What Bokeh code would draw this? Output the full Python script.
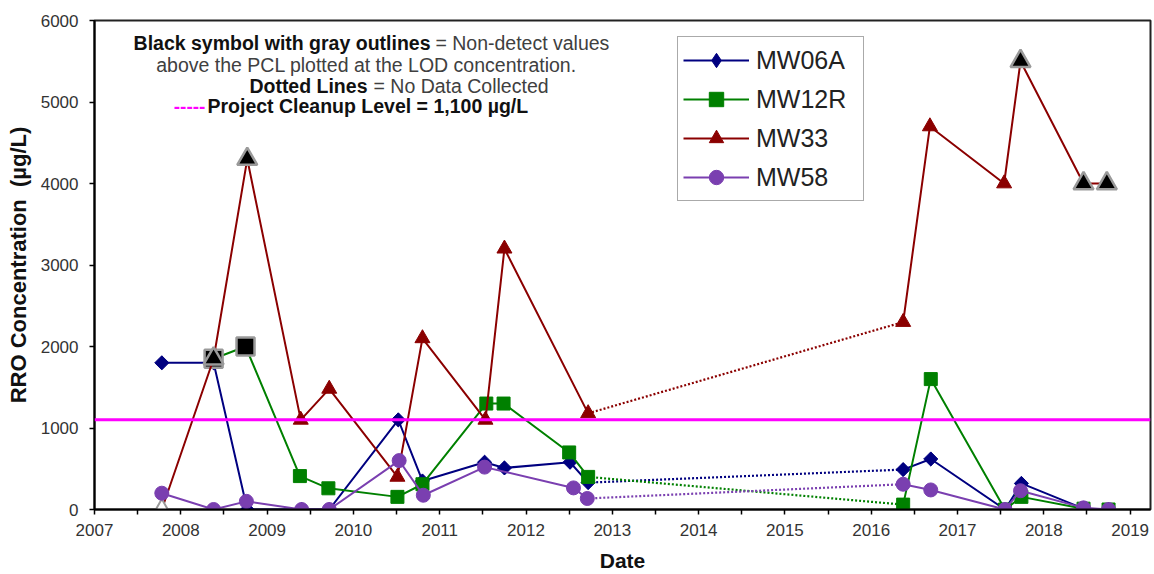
import math
from bokeh.plotting import figure
from bokeh.models import Range1d, FixedTicker, Legend, LegendItem, Label, Span
from bokeh.embed import file_html
from bokeh.resources import INLINE

# ---------------- data (decimal years, µg/L) ----------------
# status: "D" = detected, "ND" = non-detect above PCL (black, gray outline), "NDL" = open symbol
mw06a_dates = [2007.78, 2008.38, 2008.77, 2009.40, 2009.72, 2010.52, 2010.80, 2011.52, 2011.75,
               2012.51, 2012.72, 2016.37, 2016.69, 2017.55, 2017.74, 2018.46, 2018.75]
mw06a_vals = [1800, 1800, 0, 0, 0, 1100, 350, 580, 510, 580, 330, 490, 620, 0, 320, 10, 0]
mw06a_stat = ["D"] * 17

mw12r_dates = [2008.38, 2008.75, 2009.38, 2009.71, 2010.51, 2010.80, 2011.54, 2011.74, 2012.50,
               2012.72, 2016.37, 2016.69, 2017.55, 2017.74, 2018.46, 2018.75]
mw12r_vals = [1850, 2000, 410, 260, 155, 310, 1300, 1300, 700, 400, 60, 1600, 0, 155, 10, 0]
mw12r_stat = ["ND", "ND"] + ["D"] * 14

mw33_dates = [2007.78, 2008.38, 2008.77, 2009.39, 2009.72, 2010.51, 2010.80, 2011.53, 2011.75,
              2012.72, 2016.37, 2016.68, 2017.54, 2017.73, 2018.46, 2018.73]
mw33_vals = [0, 1850, 4300, 1100, 1480, 400, 2100, 1100, 3200, 1180, 2300, 4700, 4000, 5500, 4000, 4000]
mw33_stat = ["NDL", "ND", "ND"] + ["D"] * 10 + ["ND", "ND", "ND"]

mw58_dates = [2007.78, 2008.38, 2008.76, 2009.40, 2009.72, 2010.53, 2010.81, 2011.52, 2012.55,
              2012.71, 2016.37, 2016.69, 2017.55, 2017.73, 2018.46, 2018.75]
mw58_vals = [200, 0, 100, 0, 0, 600, 175, 520, 265, 135, 310, 240, 0, 230, 20, 0]
mw58_stat = ["D"] * 16

series_names = ["MW06A", "MW12R", "MW33", "MW58"]
pcl_value = 1100
year_ticks = list(range(2007, 2020))
y_ticks = [0, 1000, 2000, 3000, 4000, 5000, 6000]

# ---------------- styles ----------------
FONT = "Liberation Sans"
styles = {
    "MW06A": dict(color="#000080", marker="square", angle=math.pi / 4, size=10, nd_size=14,
                  legend_marker="diamond", legend_size=13),
    "MW12R": dict(color="#008000", marker="square", angle=0.0, size=13, nd_size=18,
                  legend_marker=None, legend_size=13),
    "MW33": dict(color="#8b0000", marker="triangle", angle=0.0, size=15, nd_size=20,
                 legend_marker=None, legend_size=15),
    "MW58": dict(color="#7a3fb0", marker="circle", angle=0.0, size=14, nd_size=18,
                 legend_marker=None, legend_size=14),
}
data = {
    "MW06A": (mw06a_dates, mw06a_vals, mw06a_stat),
    "MW12R": (mw12r_dates, mw12r_vals, mw12r_stat),
    "MW33": (mw33_dates, mw33_vals, mw33_stat),
    "MW58": (mw58_dates, mw58_vals, mw58_stat),
}

p = figure(width=1154, height=574, output_backend="svg", toolbar_location=None,
           x_range=Range1d(2007, 2019.236), y_range=Range1d(0, 6000),
           min_border_left=94, min_border_right=4, min_border_top=20, min_border_bottom=63)
p.background_fill_color = "white"
p.border_fill_color = "white"
p.outline_line_color = "#222222"
p.outline_line_width = 2
p.xgrid.visible = False
p.ygrid.visible = False

# PCL line
p.add_layout(Span(location=pcl_value, dimension="width", line_color="#ff00ff", line_width=3))

legend_items = []
for name in series_names:
    xs, ys, st = data[name]
    s = styles[name]
    # split into solid runs and dotted connectors where there is a long data gap
    runs_x, runs_y = [[xs[0]]], [[ys[0]]]
    dots_x, dots_y = [], []
    for i in range(1, len(xs)):
        if xs[i] - xs[i - 1] > 2:
            dots_x.append([xs[i - 1], xs[i]])
            dots_y.append([ys[i - 1], ys[i]])
            runs_x.append([xs[i]])
            runs_y.append([ys[i]])
        else:
            runs_x[-1].append(xs[i])
            runs_y[-1].append(ys[i])
    solid = p.multi_line(runs_x, runs_y, line_color=s["color"], line_width=2)
    if dots_x:
        p.multi_line(dots_x, dots_y, line_color=s["color"], line_width=2.2, line_dash="2 2")
    dx = [x for x, t in zip(xs, st) if t == "D"]
    dy = [y for y, t in zip(ys, st) if t == "D"]
    leg_marker = None
    if s["legend_marker"]:
        # drawn underneath the rotated squares; its shape is what the legend shows
        leg_marker = p.scatter(dx, dy, marker=s["legend_marker"], size=s["legend_size"],
                               fill_color=s["color"], line_color=s["color"], line_width=1)
    det = p.scatter(dx, dy, marker=s["marker"], angle=s["angle"], size=s["size"],
                    fill_color=s["color"], line_color=s["color"], line_width=1)
    if leg_marker is None:
        leg_marker = det
    nx = [x for x, t in zip(xs, st) if t == "ND"]
    ny = [y for y, t in zip(ys, st) if t == "ND"]
    if nx:
        p.scatter(nx, ny, marker=s["marker"], angle=s["angle"], size=s["nd_size"],
                  fill_color="black", line_color="#9a9a9a", line_width=2.5)
    lx = [x for x, t in zip(xs, st) if t == "NDL"]
    ly = [y for y, t in zip(ys, st) if t == "NDL"]
    if lx:
        p.scatter(lx, ly, marker=s["marker"], angle=s["angle"], size=s["nd_size"] - 2,
                  fill_color="white", line_color="#9a9a9a", line_width=2)
    legend_items.append(LegendItem(label=name, renderers=[solid, leg_marker]))

legend = Legend(items=legend_items, location=(583, 308), padding=5, margin=0,
                spacing=3, glyph_height=36, glyph_width=66, label_height=36,
                label_width=102, label_standoff=7,
                label_text_font=FONT, label_text_font_size="25px", label_text_color="#222222",
                border_line_color="#555555", border_line_width=1.5,
                background_fill_color="white", background_fill_alpha=1.0)
p.add_layout(legend, "center")

# axes
p.xaxis.ticker = FixedTicker(ticks=year_ticks, minor_ticks=[y + 0.5 for y in year_ticks])
p.yaxis.ticker = FixedTicker(ticks=y_ticks, minor_ticks=[])
for ax in (p.xaxis[0], p.yaxis[0]):
    ax.axis_line_color = "black"
    ax.axis_line_width = 2
    ax.major_tick_line_color = "black"
    ax.major_tick_line_width = 1.5
    ax.minor_tick_line_color = "black"
    ax.minor_tick_line_width = 1.5
    ax.major_tick_in = 0
    ax.major_tick_out = 5
    ax.minor_tick_in = 0
    ax.minor_tick_out = 5
    ax.major_label_text_font = FONT
    ax.major_label_text_font_size = "17px"
    ax.major_label_text_color = "#333333"
    ax.axis_label_text_font = FONT
    ax.axis_label_text_font_style = "bold"
    ax.axis_label_text_color = "#111111"
p.xaxis.axis_label_text_font_size = "21px"
p.yaxis.axis_label_text_font_size = "22px"
p.xaxis.axis_label = "Date"
p.yaxis.axis_label = "RRO Concentration\u00a0 (µg/L)"
p.xaxis.major_label_standoff = 9
p.yaxis.major_label_standoff = 11
p.xaxis.axis_label_standoff = 10
p.yaxis.axis_label_standoff = 7
p.xaxis.major_label_overrides = {y: str(y) for y in year_ticks}

# annotation notes
def note(x, y, text, align, bold, color="#404040", size="19.5px"):
    p.add_layout(Label(x=x, y=y, text=text, text_align=align, text_baseline="middle",
                       text_font=FONT, text_font_size=size,
                       text_font_style="bold" if bold else "normal", text_color=color))

note(2010.893, 5723, "Black symbol with gray outlines", "right", True, "#111111")
note(2010.950, 5723, "= Non-detect values", "left", False)
note(2010.152, 5450, "above the PCL plotted at the LOD concentration.", "center", False)
note(2010.163, 5197, "Dotted Lines", "right", True, "#111111")
note(2010.233, 5197, "= No Data Collected", "left", False)
note(2008.285, 4949, "-----", "right", True, "#ff00ff", "19px")
note(2008.309, 4949, "Project Cleanup Level = 1,100 µg/L", "left", True, "#111111")

open("out.html", "w").write(file_html(p, INLINE))
